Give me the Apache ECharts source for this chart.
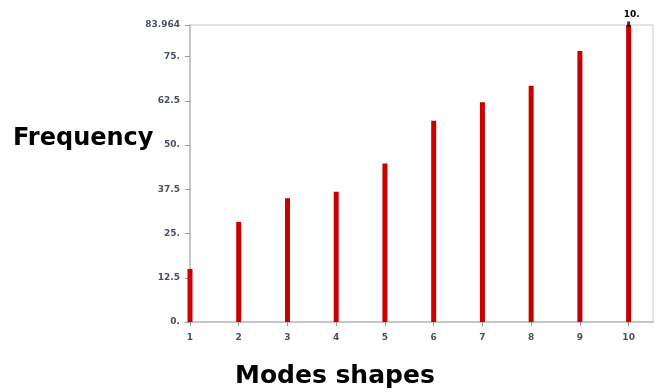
<!DOCTYPE html>
<html><head><meta charset="utf-8">
<script src="https://cdn.jsdelivr.net/npm/echarts@6/dist/echarts.min.js"></script>
<style>html,body{margin:0;padding:0;background:#fff}#c{width:658px;height:392px}</style>
</head><body><div id="c"></div>
<script>
const modes = [1,2,3,4,5,6,7,8,9,10];
const frequency = [15.0,28.3,35.0,36.8,44.8,56.9,62.1,66.8,76.6,83.964];
const yTicks = [0,12.5,25,37.5,50,62.5,75,83.964];
const xTicks = [1,2,3,4,5,6,7,8,9,10];

const chart = echarts.init(document.getElementById('c'));
const labelStyle = {color:'#4a4f66', fontSize:9, fontFamily:'DejaVu Sans', fontWeight:'bold'};
chart.setOption({
  animation:false,
  grid:{left:190,right:5,top:25,bottom:70,show:true,borderColor:'#c8c8c8',borderWidth:1},
  xAxis:{type:'value',min:1,max:10.5,interval:1,
    axisLine:{lineStyle:{color:'#bdbdbd',width:1.5}},
    axisTick:{show:true,length:4,lineStyle:{color:'#999'},customValues:xTicks},
    axisLabel:Object.assign({margin:11,customValues:xTicks},labelStyle),
    splitLine:{show:false}},
  yAxis:{type:'value',min:0,max:83.964,
    axisLine:{show:true,lineStyle:{color:'#bdbdbd',width:1.5}},
    axisTick:{show:true,length:5,lineStyle:{color:'#999'},customValues:yTicks},
    axisLabel:Object.assign({margin:10,customValues:yTicks,
      formatter:v=>Number.isInteger(v)?v+'.':String(v)},labelStyle),
    splitLine:{show:false}},
  graphic:[
    {type:'text',left:13,top:127,style:{text:'Frequency',font:'bold 24px "DejaVu Sans"',fill:'#000'}},
    {type:'text',left:235,top:364,style:{text:'Modes shapes',font:'bold 25px "DejaVu Sans"',fill:'#000'}}
  ],
  series:[
    {type:'bar',barWidth:5,clip:false,itemStyle:{color:'#c80000'},
     data:modes.map((m,i)=>{
       const d={value:[m,frequency[i]]};
       if(i===modes.length-1){d.label={show:true,position:'top',distance:6,offset:[3,0],formatter:m+'.',color:'#000',fontSize:9,fontWeight:'bold',fontFamily:'DejaVu Sans'};}
       return d;})},
    {type:'scatter',symbol:'rect',symbolSize:[3,5],symbolOffset:[0,-1],itemStyle:{color:'#000'},z:5,
     data:[[modes[modes.length-1],frequency[frequency.length-1]]]}
  ]
});
</script></body></html>
